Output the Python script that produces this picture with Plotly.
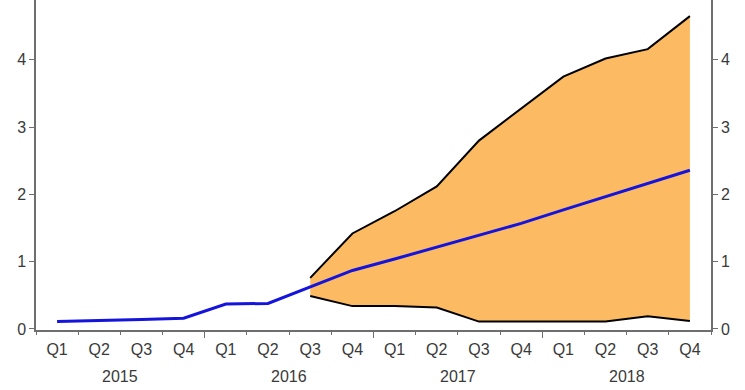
import plotly.graph_objects as go

quarters = ["Q1", "Q2", "Q3", "Q4"] * 4
years = ["2015", "2016", "2017", "2018"]
central = [0.11, 0.12, 0.14, 0.16, 0.37, 0.38, 0.62, 0.87,
           1.04, 1.22, 1.40, 1.57, 1.77, 1.97, 2.16, 2.36]
band_start = 6  # Q3 2016
upper = [0.76, 1.42, 1.75, 2.12, 2.80, 3.27, 3.75, 4.02, 4.16, 4.65]
lower = [0.49, 0.34, 0.34, 0.32, 0.11, 0.11, 0.11, 0.11, 0.19, 0.12]

n = len(central)
xs = list(range(n))
band_x = xs[band_start:]

fig = go.Figure()
fig.add_trace(go.Scatter(x=band_x, y=lower, mode="lines",
                         line=dict(color="rgba(0,0,0,0)", width=0),
                         showlegend=False, hoverinfo="skip"))
fig.add_trace(go.Scatter(x=band_x, y=upper, mode="lines", fill="tonexty",
                         fillcolor="#FCBB62",
                         line=dict(color="rgba(0,0,0,0)", width=0),
                         showlegend=False, hoverinfo="skip"))
fig.add_trace(go.Scatter(x=band_x, y=upper, mode="lines",
                         line=dict(color="black", width=2), showlegend=False))
fig.add_trace(go.Scatter(x=band_x, y=lower, mode="lines",
                         line=dict(color="black", width=2), showlegend=False))
fig.add_trace(go.Scatter(x=xs, y=central, mode="lines",
                         line=dict(color="#1414DC", width=3), showlegend=False))

xr = [-0.5, n - 0.5]
yr = [-0.015, 4.89]
axcol = "#6E6E6E"
font = dict(family="Liberation Sans, Arial, sans-serif", size=16, color="#3A3A3A")

fig.update_layout(
    width=745, height=390,
    margin=dict(l=36, r=34, t=0, b=60),
    paper_bgcolor="white", plot_bgcolor="white",
    showlegend=False,
    xaxis=dict(range=xr, tickvals=xs, ticktext=quarters, ticks="",
               showline=True, linecolor=axcol, linewidth=1.5,
               showgrid=False, zeroline=False, tickfont=font,
               ticklabelstandoff=4),
    xaxis2=dict(range=xr, overlaying="x", side="bottom",
                tickvals=[i - 0.5 for i in range(n + 1)], ticks="outside",
                ticklen=4, tickcolor=axcol, showticklabels=False,
                showline=False, showgrid=False, zeroline=False),
    xaxis3=dict(range=xr, overlaying="x", side="bottom",
                tickvals=[3.5, 7.5, 11.5], ticks="outside",
                ticklen=7, tickcolor=axcol, showticklabels=False,
                showline=False, showgrid=False, zeroline=False),
    yaxis=dict(range=yr, tickvals=[0, 1, 2, 3, 4], ticks="outside",
               ticklen=5, tickcolor=axcol, showline=True, linecolor=axcol,
               linewidth=1.5, showgrid=False, zeroline=False, tickfont=font),
    yaxis2=dict(range=yr, overlaying="y", side="right",
                tickvals=[0, 1, 2, 3, 4], ticks="outside", ticklen=5,
                tickcolor=axcol, showline=True, linecolor=axcol, linewidth=1.5,
                showgrid=False, zeroline=False, tickfont=font),
)

# dummy traces to activate overlay axes
fig.add_trace(go.Scatter(x=[None], y=[None], xaxis="x2", showlegend=False))
fig.add_trace(go.Scatter(x=[None], y=[None], xaxis="x3", showlegend=False))
fig.add_trace(go.Scatter(x=[None], y=[None], yaxis="y2", showlegend=False))

for i, yv in enumerate(years):
    fig.add_annotation(x=4 * i + 1.5, xref="x", y=-0.14, yref="paper",
                       text=yv, showarrow=False, font=font,
                       xanchor="center", yanchor="middle")

fig.write_html("out.html", config={"displayModeBar": False},
               post_script="document.body.style.margin='0';")
